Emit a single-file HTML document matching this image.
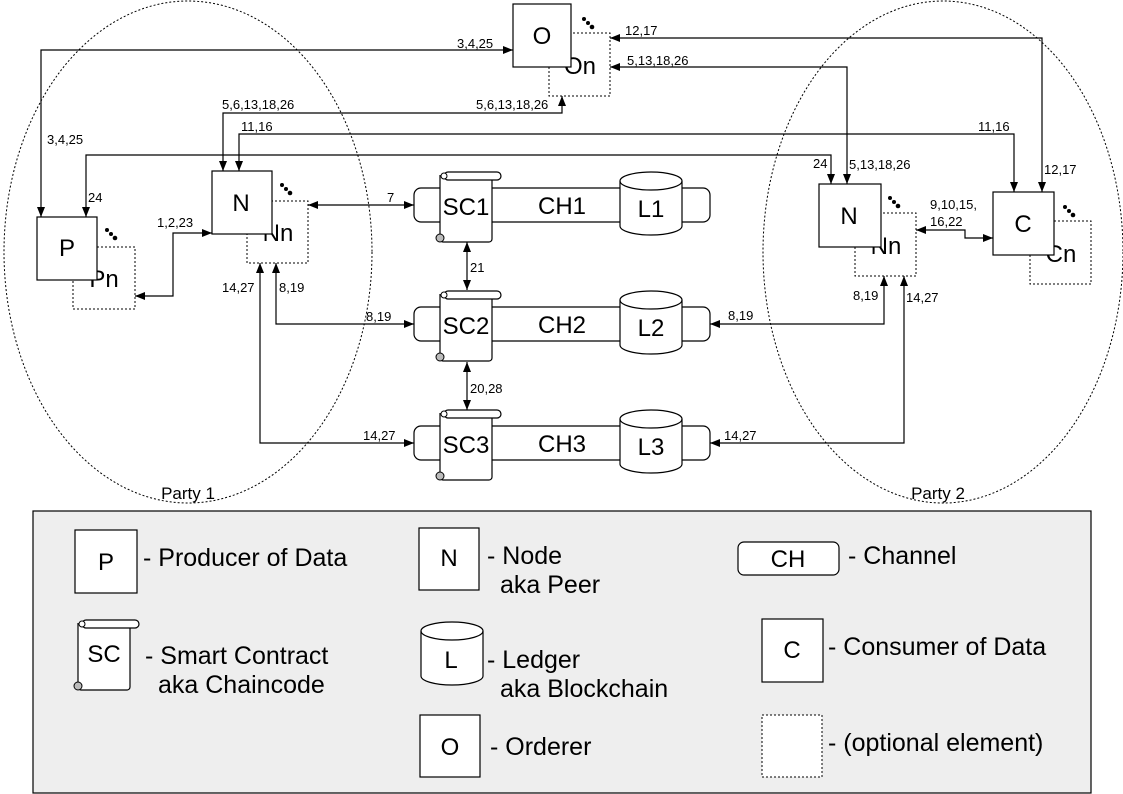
<!DOCTYPE html>
<html><head><meta charset="utf-8"><style>
html,body{margin:0;padding:0;background:#fff;}
svg{display:block;font-family:"Liberation Sans",sans-serif;}
</style></head><body>
<svg width="1123" height="794" viewBox="0 0 1123 794" xmlns="http://www.w3.org/2000/svg">
<defs>
<marker id="a" viewBox="0 0 10 10" refX="10" refY="5" markerWidth="10" markerHeight="10" markerUnits="userSpaceOnUse" orient="auto-start-reverse"><path d="M0,1 L10,5 L0,9 Z" fill="#000"/></marker>
<g id="scroll">
<path d="M0,3 V66 A3,3 0 0 0 3,70 H49 A3,3 0 0 0 52,67 V8" fill="#fff" stroke="#000" stroke-width="1.2"/>
<rect x="4" y="0" width="57" height="8" rx="4" fill="#fff" stroke="#000" stroke-width="1.2"/>
<circle cx="4" cy="4" r="3" fill="#fff" stroke="#000" stroke-width="1"/>
<circle cx="0" cy="66" r="4" fill="#bbb" stroke="#000" stroke-width="1"/>
</g>
<g id="cyl">
<path d="M0,9 A31,9 0 0 1 62,9 V54 A31,9 0 0 1 0,54 Z" fill="#fff" stroke="#000" stroke-width="1.2"/>
<path d="M0,9 A31,9 0 0 0 62,9" fill="none" stroke="#000" stroke-width="1.2"/>
</g>
<g id="dots"><circle cx="0" cy="0" r="2" fill="#000"/><circle cx="4" cy="4" r="2" fill="#000"/><circle cx="8" cy="8" r="2.3" fill="#000"/></g>
</defs>

<ellipse cx="188" cy="252" rx="184" ry="251" fill="none" stroke="#000" stroke-dasharray="2,2"/>
<ellipse cx="943" cy="252" rx="180" ry="251" fill="none" stroke="#000" stroke-dasharray="2,2"/>
<text x="188" y="499" font-size="17" text-anchor="middle">Party 1</text>
<text x="938" y="499" font-size="17" text-anchor="middle">Party 2</text>

<g fill="none" stroke="#000" stroke-width="1.2">
<path d="M513,50 H41 V217" marker-start="url(#a)" marker-end="url(#a)"/>
<path d="M223,171 V113 H562 V96" marker-start="url(#a)" marker-end="url(#a)"/>
<path d="M239,171 V134 H1014 V192" marker-start="url(#a)" marker-end="url(#a)"/>
<path d="M86,217 V155 H831 V184" marker-start="url(#a)" marker-end="url(#a)"/>
<path d="M610,38 H1042 V192" marker-start="url(#a)" marker-end="url(#a)"/>
<path d="M610,67 H847 V184" marker-start="url(#a)" marker-end="url(#a)"/>
<path d="M916,230 H965 V238 H993" marker-start="url(#a)" marker-end="url(#a)"/>
<path d="M135,296 H173 V233 H212" marker-start="url(#a)" marker-end="url(#a)"/>
<path d="M308,205 H414" marker-start="url(#a)" marker-end="url(#a)"/>
<path d="M276,263 V324 H414" marker-start="url(#a)" marker-end="url(#a)"/>
<path d="M260,263 V443 H414" marker-start="url(#a)"  marker-end="url(#a)"/>
<path d="M884,276 V324 H710" marker-start="url(#a)" marker-end="url(#a)"/>
<path d="M904,276 V443 H710" marker-start="url(#a)" marker-end="url(#a)"/>
<path d="M467,242 V290" marker-start="url(#a)" marker-end="url(#a)"/>
<path d="M467,362 V410" marker-start="url(#a)" marker-end="url(#a)"/>
</g>

<g font-size="13">
<text x="457" y="48">3,4,25</text>
<text x="47" y="144">3,4,25</text>
<text x="222" y="109">5,6,13,18,26</text>
<text x="476" y="109">5,6,13,18,26</text>
<text x="241" y="131">11,16</text>
<text x="978" y="131">11,16</text>
<text x="88" y="202">24</text>
<text x="813" y="168">24</text>
<text x="625" y="35">12,17</text>
<text x="1044" y="174">12,17</text>
<text x="627" y="65">5,13,18,26</text>
<text x="849" y="169">5,13,18,26</text>
<text x="930" y="209">9,10,15,</text>
<text x="930" y="226">16,22</text>
<text x="157" y="227">1,2,23</text>
<text x="387" y="202">7</text>
<text x="279" y="292">8,19</text>
<text x="222" y="292">14,27</text>
<text x="366" y="321">8,19</text>
<text x="363" y="440">14,27</text>
<text x="728" y="320">8,19</text>
<text x="853" y="300">8,19</text>
<text x="906" y="302">14,27</text>
<text x="724" y="440">14,27</text>
<text x="470" y="272">21</text>
<text x="470" y="393">20,28</text>
</g>

<g font-size="24" text-anchor="middle">
<rect x="549" y="33" width="61" height="63" fill="#fff" stroke="#000" stroke-dasharray="2,2"/>
<text x="580" y="74">On</text>
<rect x="513" y="4" width="58" height="63" fill="#fff" stroke="#000" stroke-width="1.2"/>
<text x="542" y="44">O</text>
<use href="#dots" x="584" y="19"/>

<rect x="73" y="247" width="62" height="62" fill="#fff" stroke="#000" stroke-dasharray="2,2"/>
<text x="104" y="287">Pn</text>
<rect x="37" y="217" width="60" height="63" fill="#fff" stroke="#000" stroke-width="1.2"/>
<text x="67" y="256">P</text>
<use href="#dots" x="107" y="230"/>

<rect x="247" y="201" width="61" height="62" fill="#fff" stroke="#000" stroke-dasharray="2,2"/>
<text x="278" y="241">Nn</text>
<rect x="212" y="171" width="60" height="63" fill="#fff" stroke="#000" stroke-width="1.2"/>
<text x="241" y="211">N</text>
<use href="#dots" x="282" y="185"/>

<rect x="855" y="213" width="61" height="63" fill="#fff" stroke="#000" stroke-dasharray="2,2"/>
<text x="886" y="254">Nn</text>
<rect x="819" y="184" width="62" height="63" fill="#fff" stroke="#000" stroke-width="1.2"/>
<text x="849" y="224">N</text>
<use href="#dots" x="890" y="198"/>

<rect x="1030" y="221" width="61" height="63" fill="#fff" stroke="#000" stroke-dasharray="2,2"/>
<text x="1061" y="262">Cn</text>
<rect x="993" y="192" width="61" height="63" fill="#fff" stroke="#000" stroke-width="1.2"/>
<text x="1023" y="232">C</text>
<use href="#dots" x="1065" y="207"/>
</g>

<g font-size="24" text-anchor="middle">
<rect x="414" y="188" width="296" height="34" rx="7" fill="#fff" stroke="#000" stroke-width="1.2"/>
<text x="562" y="214">CH1</text>
<use href="#scroll" x="440" y="172"/>
<text x="466" y="215">SC1</text>
<use href="#cyl" x="620" y="172"/>
<text x="651" y="217">L1</text>

<rect x="414" y="307" width="296" height="34" rx="7" fill="#fff" stroke="#000" stroke-width="1.2"/>
<text x="562" y="333">CH2</text>
<use href="#scroll" x="440" y="291"/>
<text x="466" y="334">SC2</text>
<use href="#cyl" x="620" y="291"/>
<text x="651" y="336">L2</text>

<rect x="414" y="426" width="296" height="34" rx="7" fill="#fff" stroke="#000" stroke-width="1.2"/>
<text x="562" y="452">CH3</text>
<use href="#scroll" x="440" y="410"/>
<text x="466" y="453">SC3</text>
<use href="#cyl" x="620" y="410"/>
<text x="651" y="455">L3</text>
</g>

<rect x="33" y="511" width="1058" height="282" fill="#eeeeee" stroke="#000" stroke-width="1.2"/>
<g font-size="25">
<rect x="75" y="530" width="62" height="63" fill="#fff" stroke="#000" stroke-width="1.2"/>
<text x="106" y="570" text-anchor="middle" font-size="24">P</text>
<text x="143" y="566">- Producer of Data</text>

<rect x="419" y="528" width="60" height="62" fill="#fff" stroke="#000" stroke-width="1.2"/>
<text x="449" y="566" text-anchor="middle" font-size="24">N</text>
<text x="487" y="564">- Node</text>
<text x="500" y="593">aka Peer</text>

<rect x="738" y="542" width="101" height="33" rx="6" fill="#fff" stroke="#000" stroke-width="1.2"/>
<text x="788" y="567" text-anchor="middle" font-size="24">CH</text>
<text x="848" y="564">- Channel</text>

<use href="#scroll" x="78" y="620"/>
<text x="104" y="662" text-anchor="middle" font-size="24">SC</text>
<text x="145" y="664">- Smart Contract</text>
<text x="158" y="693">aka Chaincode</text>

<use href="#cyl" x="421" y="622"/>
<text x="451" y="668" text-anchor="middle" font-size="24">L</text>
<text x="487" y="668">- Ledger</text>
<text x="500" y="697">aka Blockchain</text>

<rect x="762" y="619" width="61" height="63" fill="#fff" stroke="#000" stroke-width="1.2"/>
<text x="792" y="658" text-anchor="middle" font-size="24">C</text>
<text x="828" y="655">- Consumer of Data</text>

<rect x="420" y="715" width="60" height="62" fill="#fff" stroke="#000" stroke-width="1.2"/>
<text x="450" y="755" text-anchor="middle" font-size="24">O</text>
<text x="490" y="755">- Orderer</text>

<rect x="762" y="715" width="60" height="62" fill="#fff" stroke="#000" stroke-dasharray="2,2"/>
<text x="828" y="751">- (optional element)</text>
</g>
</svg>
</body></html>
